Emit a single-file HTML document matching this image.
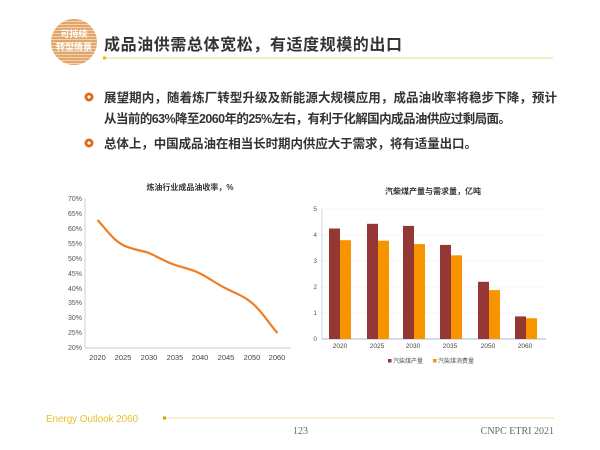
<!DOCTYPE html>
<html><head><meta charset="utf-8"><style>
body{margin:0;width:600px;height:450px;background:#fff;overflow:hidden;font-family:"Liberation Sans","Noto Sans CJK SC",sans-serif}
svg{position:absolute;left:0;top:0}
</style></head><body>
<svg width="600" height="450" viewBox="0 0 600 450" font-family="Liberation Sans, Noto Sans CJK SC, sans-serif">
<defs><pattern id="st" width="4" height="3" patternUnits="userSpaceOnUse"><rect width="4" height="3" fill="#e2a56c"/><rect width="4" height="1" fill="#f3d3b0"/></pattern></defs>
<circle cx="74" cy="42" r="23" fill="url(#st)"/>
<text x="74" y="37" font-size="9" font-weight="bold" fill="#fff" text-anchor="middle">可持续</text>
<text x="74" y="50" font-size="9" font-weight="bold" fill="#fff" text-anchor="middle">转型情景</text>
<text x="104" y="50" font-size="16" font-weight="bold" fill="#333" textLength="298">成品油供需总体宽松，有适度规模的出口</text>
<line x1="105" y1="58" x2="553" y2="58" stroke="#f1e6b0" stroke-width="1.5"/>
<rect x="103" y="56.5" width="3" height="3" fill="#e8c000"/>
<g font-size="12.5" font-weight="bold" fill="#333">
<circle cx="89" cy="97" r="4.5" fill="#e06a1a"/><circle cx="89" cy="97" r="1.6" fill="#fff"/>
<text x="104" y="102" textLength="453">展望期内，随着炼厂转型升级及新能源大规模应用，成品油收率将稳步下降，预计</text>
<text x="104" y="123" textLength="407">从当前的63%降至2060年的25%左右，有利于化解国内成品油供应过剩局面。</text>
<circle cx="89" cy="143" r="4.5" fill="#e06a1a"/><circle cx="89" cy="143" r="1.6" fill="#fff"/>
<text x="104" y="148" textLength="373">总体上，中国成品油在相当长时期内供应大于需求，将有适量出口。</text>
</g>
<!-- left chart -->
<text x="190" y="190" font-size="8" font-weight="bold" fill="#333" text-anchor="middle">炼油行业成品油收率，%</text>
<g font-size="7" fill="#555" text-anchor="end">
<text x="82" y="201">70%</text><text x="82" y="216">65%</text><text x="82" y="231">60%</text><text x="82" y="246">55%</text><text x="82" y="261">50%</text><text x="82" y="276">45%</text><text x="82" y="291">40%</text><text x="82" y="305">35%</text><text x="82" y="320">30%</text><text x="82" y="335">25%</text><text x="82" y="350">20%</text>
</g>
<line x1="85" y1="199" x2="85" y2="348" stroke="#bbb" stroke-width="0.7"/>
<line x1="85" y1="348" x2="291" y2="348" stroke="#bbb" stroke-width="0.7"/>
<g font-size="7.5" fill="#444" text-anchor="middle">
<text x="97.5" y="360">2020</text><text x="123" y="360">2025</text><text x="149" y="360">2030</text><text x="175" y="360">2035</text><text x="200" y="360">2040</text><text x="226" y="360">2045</text><text x="252" y="360">2050</text><text x="277" y="360">2060</text>
</g>
<path d="M97.5 220 C106 229,113 240,123 245 C132 250,141 250,149 253 C158 257,166 262,175 265 C184 268,192 269,200 273.5 C209 278,217 284,226 288.5 C235 293,244 296,252 303 C262 311,270 325,277.5 333" fill="none" stroke="#ee7d24" stroke-width="2.2"/>
<!-- right chart -->
<text x="433" y="194" font-size="8" font-weight="bold" fill="#333" text-anchor="middle">汽柴煤产量与需求量，亿吨</text>
<g stroke="#eee" stroke-width="0.6"><line x1="322" y1="209" x2="546" y2="209"/><line x1="322" y1="235" x2="546" y2="235"/><line x1="322" y1="261" x2="546" y2="261"/><line x1="322" y1="287" x2="546" y2="287"/><line x1="322" y1="313" x2="546" y2="313"/></g>
<g font-size="6.5" fill="#555" text-anchor="end"><text x="317" y="211">5</text><text x="317" y="237">4</text><text x="317" y="263">3</text><text x="317" y="289">2</text><text x="317" y="315">1</text><text x="317" y="341">0</text></g>
<line x1="322" y1="209" x2="322" y2="339" stroke="#bbb" stroke-width="0.6"/>
<line x1="322" y1="339" x2="546" y2="339" stroke="#8aa0c0" stroke-width="0.8"/>
<g fill="#953735">
<rect x="329" y="228.5" width="11" height="110.5"/><rect x="367" y="223.8" width="11" height="115.2"/><rect x="403" y="225.9" width="11" height="113.1"/><rect x="440" y="244.9" width="11" height="94.1"/><rect x="478" y="281.8" width="11" height="57.2"/><rect x="515" y="316.4" width="11" height="22.6"/>
</g>
<g fill="#f79400">
<rect x="340" y="240.2" width="11" height="98.8"/><rect x="378" y="240.7" width="11" height="98.3"/><rect x="414" y="244.1" width="11" height="94.9"/><rect x="451" y="255.3" width="11" height="83.7"/><rect x="489" y="290.1" width="11" height="48.9"/><rect x="526" y="318.2" width="11" height="20.8"/>
</g>
<g font-size="6.5" fill="#444" text-anchor="middle"><text x="340" y="348">2020</text><text x="377" y="348">2025</text><text x="413" y="348">2030</text><text x="450" y="348">2035</text><text x="488" y="348">2050</text><text x="525" y="348">2060</text></g>
<rect x="388" y="359" width="3.5" height="3.5" fill="#953735"/><text x="393" y="363" font-size="6" fill="#555">汽柴煤产量</text>
<rect x="433" y="359" width="3.5" height="3.5" fill="#f79400"/><text x="438" y="363" font-size="6" fill="#555">汽柴煤消费量</text>
<!-- footer -->
<text x="46" y="422" font-size="10" fill="#e8c030" textLength="92">Energy Outlook 2060</text>
<rect x="163" y="416.5" width="3" height="3" fill="#d9a000"/>
<line x1="166" y1="418" x2="554" y2="418" stroke="#efd490" stroke-width="0.8"/>
<text x="293" y="434" font-size="10" fill="#666" font-family="Liberation Serif, serif">123</text>
<text x="554" y="434" font-size="10" fill="#666" text-anchor="end" font-family="Liberation Serif, serif">CNPC ETRI 2021</text>
</svg>
</body></html>
